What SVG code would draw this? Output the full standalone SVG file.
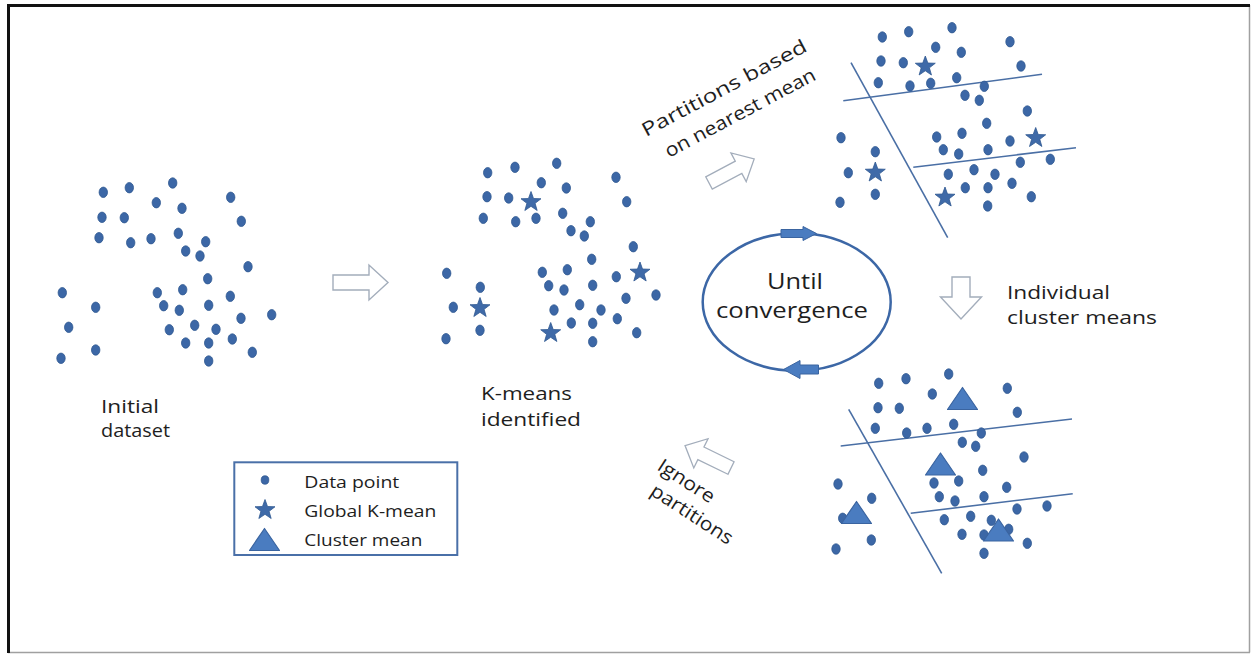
<svg xmlns="http://www.w3.org/2000/svg" xmlns:xlink="http://www.w3.org/1999/xlink" width="1253" height="654" viewBox="0 0 1253 654">
  <style>
    .lbl { font-family: "Open Sans", "Noto Sans", "DejaVu Sans", sans-serif; fill: #1e1e1e; }
    .pt { fill: #3c67a6; stroke: #2f5890; stroke-width: 0.8; }
    .mean { fill: #3f6aa8; stroke: #2f5890; stroke-width: 0.8; }
    .cm { fill: #4a7cc0; stroke: #3a64a0; stroke-width: 1.2; stroke-linejoin: round; }
    .split { stroke: #4a6fa5; stroke-width: 1.6; fill: none; }
    .hollow { fill: #ffffff; stroke: #a3adbb; stroke-width: 1.4; stroke-linejoin: miter; }
    .block { fill: #4a7cc0; stroke: #3a64a0; stroke-width: 1; stroke-linejoin: round; }
  </style>
  <defs>
    <ellipse id="dot" cx="0" cy="0" rx="4.2" ry="5.2" class="pt"/>
    <path id="star" class="mean" d="M0,-10.5 L2.53,-3.48 L9.99,-3.24 L4.09,1.33 L6.17,8.49 L0,4.3 L-6.17,8.49 L-4.09,1.33 L-9.99,-3.24 L-2.53,-3.48 Z"/>
    <path id="tri" class="cm" d="M0,0 L15,22 L-15,22 Z"/>
    <path id="harrow" d="M0,-7.5 H36 V-17.5 L55,0 L36,17.5 V7.5 H0 Z"/>
  </defs>

  <!-- page frame -->
  <g id="frame">
    <rect x="0" y="0" width="1253" height="654" fill="#ffffff"/>
    <line x1="1249.5" y1="5" x2="1249.5" y2="652.5" stroke="#a0a0a0" stroke-width="1.5"/>
    <line x1="8" y1="652.5" x2="1250" y2="652.5" stroke="#a0a0a0" stroke-width="1.5"/>
    <line x1="7" y1="5.5" x2="1250" y2="5.5" stroke="#111111" stroke-width="3"/>
    <line x1="8.5" y1="4" x2="8.5" y2="653" stroke="#111111" stroke-width="3"/>
  </g>

  <!-- raw data points -->
  <g id="initial-dataset">
    <use href="#dot" x="103.3" y="192.3"/><use href="#dot" x="129.3" y="187.7"/><use href="#dot" x="172.7" y="183"/>
    <use href="#dot" x="230.7" y="197.3"/><use href="#dot" x="156.3" y="202.7"/><use href="#dot" x="182" y="208.3"/>
    <use href="#dot" x="102" y="217.3"/><use href="#dot" x="124.3" y="217.7"/><use href="#dot" x="241.3" y="221.3"/>
    <use href="#dot" x="99" y="237.7"/><use href="#dot" x="130.7" y="242.7"/><use href="#dot" x="151" y="238.7"/>
    <use href="#dot" x="178.3" y="233.3"/><use href="#dot" x="205.7" y="241.7"/><use href="#dot" x="185.7" y="251"/>
    <use href="#dot" x="200" y="256"/><use href="#dot" x="248" y="266.7"/><use href="#dot" x="207.7" y="278.7"/>
    <use href="#dot" x="62.3" y="292.7"/><use href="#dot" x="157.3" y="292.7"/><use href="#dot" x="182.7" y="289.7"/>
    <use href="#dot" x="230.3" y="296.3"/><use href="#dot" x="95.7" y="307.3"/><use href="#dot" x="163.7" y="305.7"/>
    <use href="#dot" x="179.3" y="310.3"/><use href="#dot" x="208.7" y="305.3"/><use href="#dot" x="271.7" y="314.7"/>
    <use href="#dot" x="241" y="318.3"/><use href="#dot" x="68.7" y="327.3"/><use href="#dot" x="169.3" y="329.7"/>
    <use href="#dot" x="194.7" y="325.3"/><use href="#dot" x="216" y="329.3"/><use href="#dot" x="232.3" y="339"/>
    <use href="#dot" x="185.7" y="343"/><use href="#dot" x="208.7" y="343"/><use href="#dot" x="95.7" y="350"/>
    <use href="#dot" x="61" y="358.3"/><use href="#dot" x="252.3" y="352.3"/><use href="#dot" x="208.7" y="361"/>
    <text class="lbl" font-size="18" x="101" y="413" textLength="58" lengthAdjust="spacingAndGlyphs">Initial</text>
    <text class="lbl" font-size="18" x="101" y="437" textLength="69" lengthAdjust="spacingAndGlyphs">dataset</text>
  </g>

  <!-- data points with global K-means -->
  <g id="kmeans-identified">
    <use href="#dot" x="487.7" y="172.7"/><use href="#dot" x="515" y="167.3"/><use href="#dot" x="556.7" y="163.3"/>
    <use href="#dot" x="616" y="177.3"/><use href="#dot" x="541.3" y="182.7"/><use href="#dot" x="566.3" y="188"/>
    <use href="#dot" x="487" y="196.7"/><use href="#dot" x="508.7" y="198"/><use href="#dot" x="626.7" y="201.7"/>
    <use href="#dot" x="483.3" y="218.3"/><use href="#dot" x="515.7" y="221.7"/><use href="#dot" x="536" y="218.3"/>
    <use href="#dot" x="562.7" y="213.3"/><use href="#dot" x="590.3" y="221.7"/><use href="#dot" x="571" y="230.7"/>
    <use href="#dot" x="584.3" y="236"/><use href="#dot" x="633.3" y="246.7"/><use href="#dot" x="591.7" y="259.3"/>
    <use href="#dot" x="446.7" y="273.3"/><use href="#dot" x="542.3" y="272.3"/><use href="#dot" x="567.3" y="269.7"/>
    <use href="#dot" x="616.3" y="276.7"/><use href="#dot" x="480.3" y="287.3"/><use href="#dot" x="548.7" y="285.7"/>
    <use href="#dot" x="564" y="290"/><use href="#dot" x="592.7" y="285.3"/><use href="#dot" x="656" y="295"/>
    <use href="#dot" x="626" y="298.3"/><use href="#dot" x="453.3" y="307.3"/><use href="#dot" x="554" y="310"/>
    <use href="#dot" x="579.7" y="304.7"/><use href="#dot" x="601" y="310"/><use href="#dot" x="617.3" y="318.7"/>
    <use href="#dot" x="571.3" y="323"/><use href="#dot" x="592.7" y="323.3"/><use href="#dot" x="480" y="330.3"/>
    <use href="#dot" x="446" y="338.7"/><use href="#dot" x="636.7" y="332.7"/><use href="#dot" x="592.7" y="341.7"/>
    <use href="#star" x="531" y="202"/><use href="#star" x="640" y="272.5"/>
    <use href="#star" x="480" y="308"/><use href="#star" x="550.7" y="333"/>
    <text class="lbl" font-size="18" x="481" y="400" textLength="91" lengthAdjust="spacingAndGlyphs">K-means</text>
    <text class="lbl" font-size="18" x="481" y="426" textLength="100" lengthAdjust="spacingAndGlyphs">identified</text>
  </g>

  <!-- points split by nearest mean -->
  <g id="partitioned">
    <line class="split" x1="843.3" y1="100.7" x2="1042" y2="74.3"/>
    <line class="split" x1="851" y1="62.7" x2="947.7" y2="237.7"/>
    <line class="split" x1="913.3" y1="167.3" x2="1076" y2="147.7"/>
    <use href="#dot" x="882.3" y="37"/><use href="#dot" x="908.7" y="31.7"/><use href="#dot" x="952" y="27.7"/>
    <use href="#dot" x="1010" y="41.7"/><use href="#dot" x="935.7" y="47.3"/><use href="#dot" x="961.3" y="52.3"/>
    <use href="#dot" x="881" y="61"/><use href="#dot" x="903.3" y="62.7"/><use href="#dot" x="1021" y="66"/>
    <use href="#dot" x="878.3" y="82.7"/><use href="#dot" x="910" y="86"/><use href="#dot" x="930.7" y="83.3"/>
    <use href="#dot" x="956.7" y="77.7"/><use href="#dot" x="984.3" y="86.3"/><use href="#dot" x="965" y="95.3"/>
    <use href="#dot" x="979.3" y="100.3"/><use href="#dot" x="1027.3" y="111"/><use href="#dot" x="986.7" y="123.3"/>
    <use href="#dot" x="841" y="137.7"/><use href="#dot" x="936.7" y="137"/><use href="#dot" x="962" y="133.3"/>
    <use href="#dot" x="1010" y="141"/><use href="#dot" x="875.3" y="151.7"/><use href="#dot" x="943.3" y="149.7"/>
    <use href="#dot" x="958.7" y="154"/><use href="#dot" x="988" y="149.7"/><use href="#dot" x="1050.3" y="159.3"/>
    <use href="#dot" x="1020.3" y="162.3"/><use href="#dot" x="848.3" y="172.7"/><use href="#dot" x="948.3" y="174.3"/>
    <use href="#dot" x="974" y="169.7"/><use href="#dot" x="995" y="174.3"/><use href="#dot" x="1012" y="183.3"/>
    <use href="#dot" x="965.3" y="187.7"/><use href="#dot" x="988" y="187.7"/><use href="#dot" x="875.3" y="194.3"/>
    <use href="#dot" x="840" y="202.3"/><use href="#dot" x="1031.3" y="196.7"/><use href="#dot" x="987.7" y="206"/>
    <use href="#star" x="925.3" y="66.5"/><use href="#star" x="1035.7" y="138"/>
    <use href="#star" x="875.3" y="172.5"/><use href="#star" x="945" y="197.5"/>
  </g>

  <!-- per-partition cluster means -->
  <g id="cluster-means">
    <line class="split" x1="840.7" y1="446" x2="1072" y2="419"/>
    <line class="split" x1="848.7" y1="409.3" x2="941.7" y2="573.3"/>
    <line class="split" x1="910.7" y1="513.3" x2="1072.7" y2="493.7"/>
    <use href="#dot" x="878.7" y="383.3"/><use href="#dot" x="906" y="378.7"/><use href="#dot" x="948.7" y="374"/>
    <use href="#dot" x="1007.3" y="388.3"/><use href="#dot" x="932.3" y="394"/><use href="#dot" x="878" y="407.7"/>
    <use href="#dot" x="899.3" y="408.3"/><use href="#dot" x="1017.3" y="412.3"/><use href="#dot" x="875.3" y="428.3"/>
    <use href="#dot" x="906.7" y="433"/><use href="#dot" x="927" y="428.3"/><use href="#dot" x="953.7" y="424.3"/>
    <use href="#dot" x="981.3" y="433"/><use href="#dot" x="962.3" y="442.3"/><use href="#dot" x="975.7" y="446.3"/>
    <use href="#dot" x="1024" y="457"/><use href="#dot" x="982.7" y="470.3"/><use href="#dot" x="838" y="484"/>
    <use href="#dot" x="934" y="483"/><use href="#dot" x="958.7" y="481"/><use href="#dot" x="1006.7" y="487.3"/>
    <use href="#dot" x="871.7" y="498.3"/><use href="#dot" x="939.3" y="496.7"/><use href="#dot" x="955" y="501"/>
    <use href="#dot" x="984" y="496.7"/><use href="#dot" x="1047" y="506"/><use href="#dot" x="1017" y="509"/>
    <use href="#dot" x="842.7" y="518.3"/><use href="#dot" x="944.3" y="519.7"/><use href="#dot" x="970.7" y="516.3"/>
    <use href="#dot" x="991.3" y="520.3"/><use href="#dot" x="1008.7" y="529.3"/><use href="#dot" x="962" y="534.3"/>
    <use href="#dot" x="984" y="535"/><use href="#dot" x="871.3" y="540"/><use href="#dot" x="836" y="549"/>
    <use href="#dot" x="1027.3" y="543.3"/><use href="#dot" x="984" y="553.3"/>
    <use href="#tri" x="962.5" y="387.5"/>
    <use href="#tri" x="940.5" y="453"/>
    <use href="#tri" x="856.5" y="501.5"/>
    <use href="#tri" x="998.5" y="519"/>
  </g>

  <!-- iteration loop -->
  <g id="cycle">
    <ellipse cx="796.7" cy="302" rx="94" ry="68.7" fill="none" stroke="#3c67a6" stroke-width="2.5"/>
    <path class="block" d="M781,229.5 H803 V226.5 L816.5,233.5 L803,240.5 V237.5 H781 Z"/>
    <path class="block" d="M818.5,365 H800 V360.5 L783.5,369.5 L800,378.5 V374 H818.5 Z"/>
    <text class="lbl" font-size="22" x="795" y="289" text-anchor="middle" textLength="56" lengthAdjust="spacingAndGlyphs">Until</text>
    <text class="lbl" font-size="22" x="792" y="317.5" text-anchor="middle" textLength="152" lengthAdjust="spacingAndGlyphs">convergence</text>
  </g>

  <!-- step arrows and their labels -->
  <g id="connectors">
    <use href="#harrow" class="hollow" transform="translate(333,282.5)"/>
    <use href="#harrow" class="hollow" transform="translate(709,183) rotate(-28) scale(0.93)"/>
    <path class="hollow" d="M952,277 H970 V297 H981.5 L961,319 L940.5,297 H952 Z"/>
    <use href="#harrow" class="hollow" transform="translate(731,468) rotate(206) scale(0.93)"/>
    <text class="lbl" font-size="19" transform="translate(646,137) rotate(-28)" textLength="184" lengthAdjust="spacingAndGlyphs">Partitions based</text>
    <text class="lbl" font-size="19" transform="translate(669,158) rotate(-28)" textLength="168" lengthAdjust="spacingAndGlyphs">on nearest mean</text>
    <text class="lbl" font-size="19" x="1007" y="299" textLength="103" lengthAdjust="spacingAndGlyphs">Individual</text>
    <text class="lbl" font-size="19" x="1007" y="324" textLength="150" lengthAdjust="spacingAndGlyphs">cluster means</text>
    <text class="lbl" font-size="19" transform="translate(656,469) rotate(33)" textLength="64" lengthAdjust="spacingAndGlyphs">Ignore</text>
    <text class="lbl" font-size="19" transform="translate(649,494) rotate(33)" textLength="94" lengthAdjust="spacingAndGlyphs">partitions</text>
  </g>

  <!-- symbol key -->
  <g id="legend">
    <rect x="234.3" y="462.3" width="223" height="92.7" fill="#ffffff" stroke="#4a70a8" stroke-width="2"/>
    <ellipse cx="265" cy="480" rx="3.8" ry="4.2" class="pt"/>
    <use href="#star" x="265" y="510"/>
    <use href="#tri" x="264.5" y="528.5"/>
    <text class="lbl" font-size="16.5" x="304.3" y="488.3" textLength="95" lengthAdjust="spacingAndGlyphs">Data point</text>
    <text class="lbl" font-size="16.5" x="304.3" y="516.7" textLength="132" lengthAdjust="spacingAndGlyphs">Global K-mean</text>
    <text class="lbl" font-size="16.5" x="304.3" y="545.7" textLength="118" lengthAdjust="spacingAndGlyphs">Cluster mean</text>
  </g>
</svg>
